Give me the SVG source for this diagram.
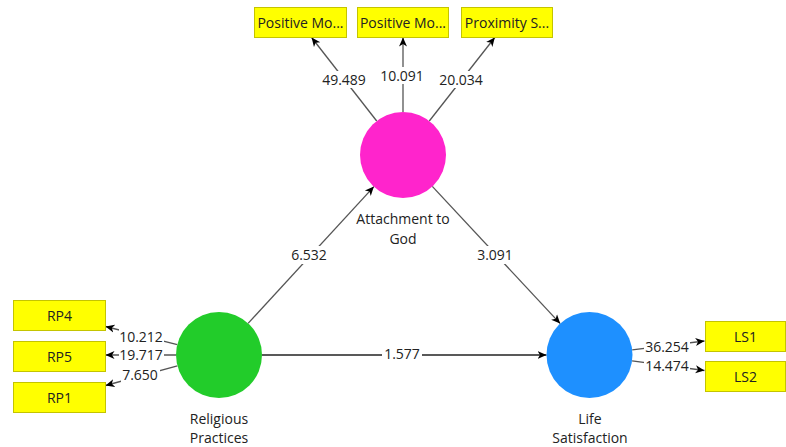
<svg xmlns="http://www.w3.org/2000/svg" width="786" height="447" viewBox="0 0 786 447">
<style>
text{font-family:"Open Sans","Noto Sans","Liberation Sans",sans-serif;font-size:14px;fill:#222;text-anchor:middle}
.box{fill:#ffff00;stroke:#c4c400;stroke-width:1}
.ln{stroke:#555;stroke-width:1.3;fill:none;marker-end:url(#ah)}
.lb{fill:#fff}
</style>
<defs>
<marker id="ah" markerWidth="10" markerHeight="10" refX="9" refY="5" orient="auto" markerUnits="userSpaceOnUse">
<path d="M0,1 L9,5 L0,9 L2.5,5 Z" fill="#000"/>
</marker>
</defs>
<rect width="786" height="447" fill="#fff"/>
<g id="connectors">
<line class="ln" x1="376.7" y1="121" x2="311.6" y2="37.5"/>
<line class="ln" x1="403" y1="112" x2="403" y2="37.5"/>
<line class="ln" x1="429.3" y1="121" x2="494.8" y2="37.5"/>
<line class="ln" x1="177.3" y1="344.6" x2="105.5" y2="326.5"/>
<line class="ln" x1="176" y1="355" x2="105.5" y2="355"/>
<line class="ln" x1="177.4" y1="365.9" x2="105.5" y2="385.5"/>
<line class="ln" x1="632.2" y1="349.8" x2="704.5" y2="341"/>
<line class="ln" x1="632.1" y1="360.8" x2="704.5" y2="370.5"/>
<line class="ln" x1="248.1" y1="323.4" x2="373.9" y2="186.6"/>
<line class="ln" x1="432.3" y1="186.4" x2="560.2" y2="323.6"/>
<line class="ln" x1="262" y1="355" x2="546.5" y2="355" style="stroke:#222"/>
<rect class="lb" x="322" y="71" width="44" height="17"/>
<rect class="lb" x="380" y="67" width="44" height="17"/>
<rect class="lb" x="439" y="71" width="44" height="17"/>
<rect class="lb" x="119" y="328" width="45" height="16"/>
<rect class="lb" x="119" y="347" width="45" height="16"/>
<rect class="lb" x="121" y="367" width="39" height="16"/>
<rect class="lb" x="644" y="339" width="46" height="16"/>
<rect class="lb" x="644" y="358" width="46" height="16"/>
<rect class="lb" x="289" y="246" width="40" height="18"/>
<rect class="lb" x="475" y="246" width="40" height="18"/>
<rect class="lb" x="382" y="346" width="40" height="17"/>
<text x="344" y="85">49.489</text>
<text x="402" y="81">10.091</text>
<text x="461" y="85">20.034</text>
<text x="141" y="342">10.212</text>
<text x="141" y="360">19.717</text>
<text x="140" y="380">7.650</text>
<text x="667" y="351.5">36.254</text>
<text x="667" y="371">14.474</text>
<text x="309" y="260">6.532</text>
<text x="495" y="260">3.091</text>
<text x="402" y="359">1.577</text>
</g>
<g id="box-pm1"><rect class="box" x="254.5" y="7.5" width="92" height="30"/><text x="300.5" y="28">Positive Mo...</text></g>
<g id="box-pm2"><rect class="box" x="357.5" y="7.5" width="91" height="30"/><text x="403" y="28">Positive Mo...</text></g>
<g id="box-ps"><rect class="box" x="461.5" y="7.5" width="91" height="30"/><text x="507" y="28">Proximity S...</text></g>
<g id="box-rp4"><rect class="box" x="13.5" y="300.5" width="92" height="30"/><text x="59.5" y="321">RP4</text></g>
<g id="box-rp5"><rect class="box" x="13.5" y="341.5" width="92" height="30"/><text x="59.5" y="362">RP5</text></g>
<g id="box-rp1"><rect class="box" x="13.5" y="382.5" width="92" height="30"/><text x="59.5" y="403">RP1</text></g>
<g id="box-ls1"><rect class="box" x="705.5" y="321.5" width="80" height="30"/><text x="745.5" y="342">LS1</text></g>
<g id="box-ls2"><rect class="box" x="705.5" y="361.5" width="80" height="30"/><text x="745.5" y="382">LS2</text></g>
<g id="node-attachment"><circle cx="403" cy="155" r="43" fill="#ff24cc"/><text x="403" y="224">Attachment to</text><text x="403" y="244">God</text></g>
<g id="node-religious"><circle cx="219" cy="355" r="43" fill="#22cc2a"/><text x="219" y="424">Religious</text><text x="219" y="443">Practices</text></g>
<g id="node-life"><circle cx="589.5" cy="355" r="43" fill="#1e90ff"/><text x="590" y="424">Life</text><text x="590" y="443">Satisfaction</text></g>
</svg>
